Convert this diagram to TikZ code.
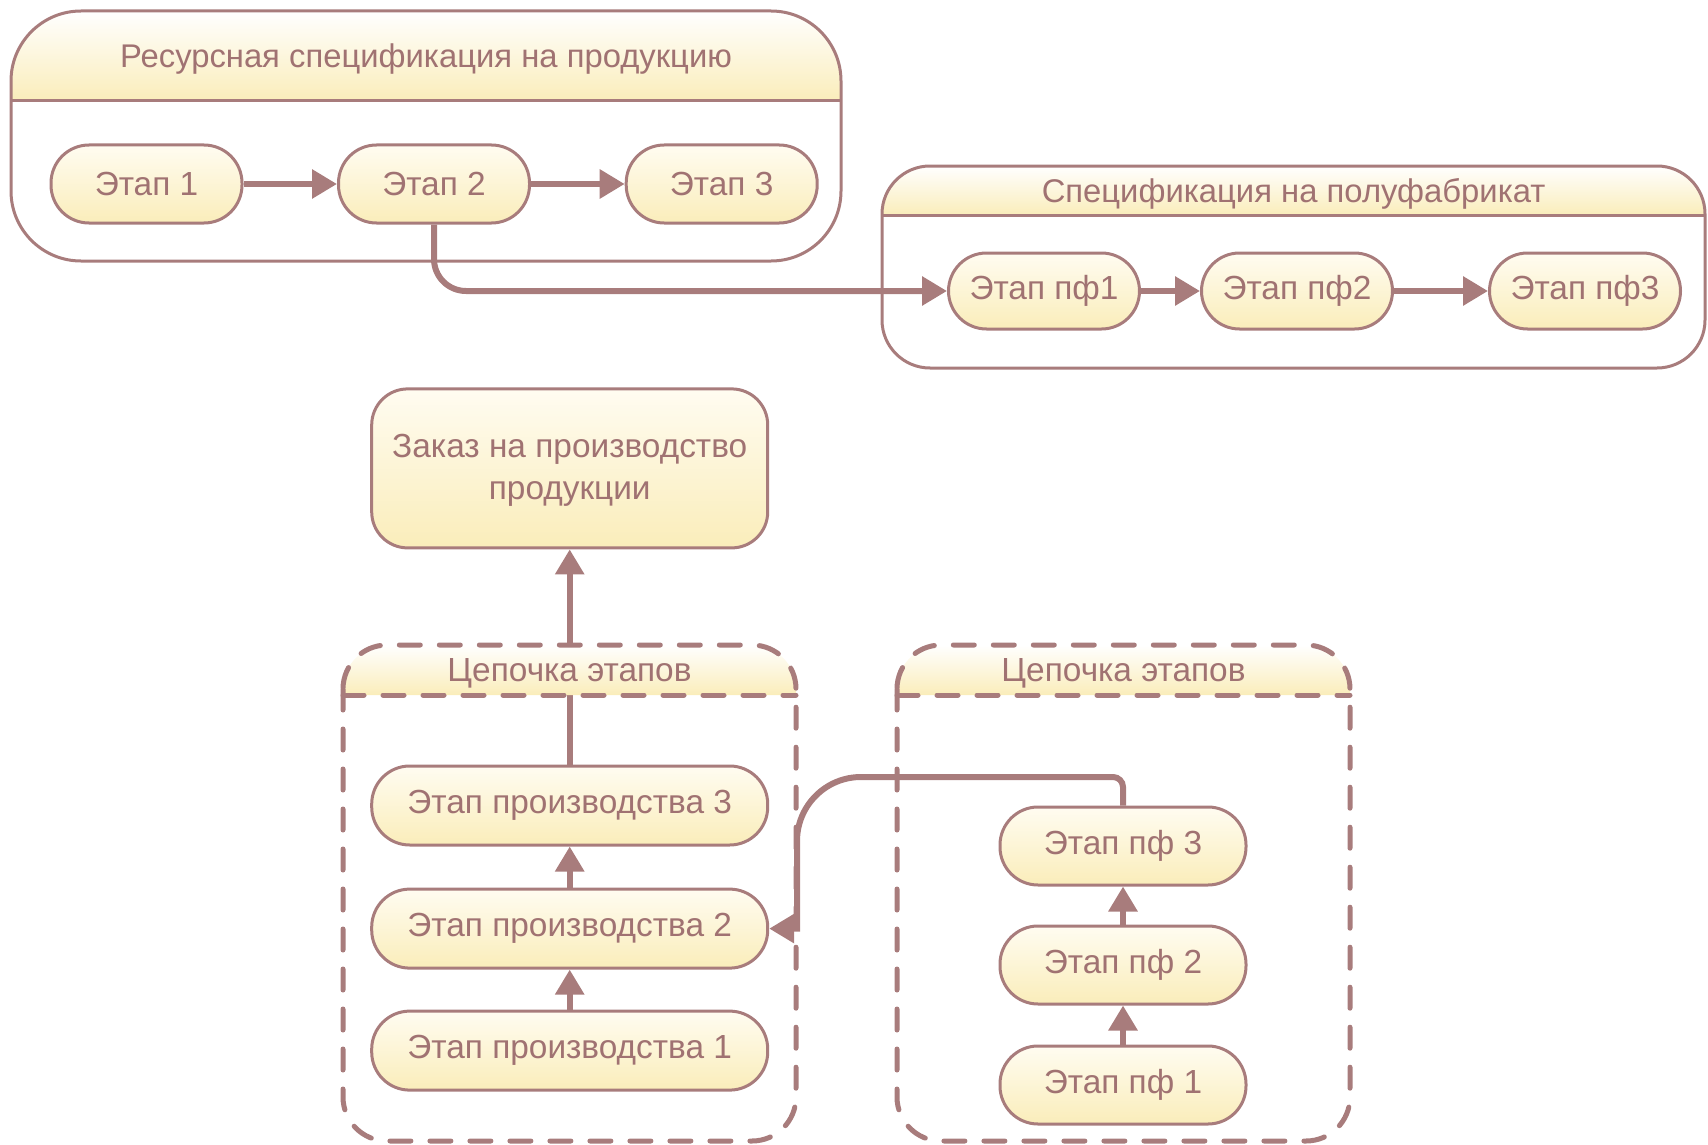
\documentclass[tikz,border=0pt]{standalone}
\usepackage{fontspec}
\setmainfont{Liberation Sans}
\usetikzlibrary{arrows.meta}

\definecolor{edge}{RGB}{168,124,124}
\definecolor{ink}{RGB}{160,114,114}
\definecolor{cream}{RGB}{255,252,241}
\definecolor{butter}{RGB}{250,237,186}

\begin{document}
\begin{tikzpicture}[x=0.5pt,y=-0.5pt,
  txt/.style={text=ink, font=\fontsize{16.7}{21.25}\selectfont},
  ttl/.style={text=ink, font=\fontsize{16.4}{21}\selectfont},
  stagebox/.style={txt, draw=edge, line width=1.5pt, rounded corners=19pt,
    top color=cream, bottom color=butter, minimum height=39pt,
    inner sep=0pt, align=center},
  conn/.style={draw=edge, line width=3pt, -{Triangle[length=12.5pt,width=14pt]}},
  headfill/.style={top color=white, bottom color=butter},
  frame/.style={inner sep=0pt, outer sep=0pt},
  solidline/.style={draw=edge, line width=1.5pt},
  dashline/.style={draw=edge, line width=2.5pt, line cap=round,
    dash pattern=on 10.5pt off 9.5pt},
]
\useasboundingbox (0,0) rectangle (1708,1145);

% --- stages of the product specification
\node[stagebox, minimum width=95.5pt] (e1) at (146.5,184) {Этап 1};
\node[stagebox, minimum width=95.5pt] (e2) at (434,184) {Этап 2};
\node[stagebox, minimum width=95.5pt] (e3) at (721.7,184) {Этап 3};

% --- stages of the semi-finished product specification
\node[stagebox, minimum width=95.5pt, minimum height=38pt] (f1) at (1044,291) {Этап пф1};
\node[stagebox, minimum width=95.5pt, minimum height=38pt] (f2) at (1297,291) {Этап пф2};
\node[stagebox, minimum width=95.5pt, minimum height=38pt] (f3) at (1585,291) {Этап пф3};

% --- production order
\node[stagebox, rounded corners=18pt, minimum width=198pt, minimum height=79.5pt]
  (zakaz) at (569.7,468.4) {};
\node[txt, align=center] (zakazt) at ([yshift=-1pt]zakaz.center) {Заказ на производство\\продукции};

% --- production chain
\node[stagebox, minimum width=198pt, minimum height=39.5pt] (p3) at (569.7,805.5) {Этап производства 3};
\node[stagebox, minimum width=198pt, minimum height=39.5pt] (p2) at (569.7,928.6) {Этап производства 2};
\node[stagebox, minimum width=198pt, minimum height=39.5pt] (p1) at (569.7,1050.6) {Этап производства 1};

% --- semi-finished chain
\node[stagebox, minimum width=123pt] (q3) at (1123,846) {Этап пф 3};
\node[stagebox, minimum width=123pt] (q2) at (1123,965) {Этап пф 2};
\node[stagebox, minimum width=123pt] (q1) at (1123,1085) {Этап пф 1};

% --- connectors
\draw[conn] (e1) -- (e2);
\draw[conn] (e2) -- (e3);
\draw[conn, rounded corners=16pt] (e2.south) |- (f1.west);
\draw[conn] (f1) -- (f2);
\draw[conn] (f2) -- (f3);

\draw[conn] (p1) -- (p2);
\draw[conn] (p2) -- (p3);
\draw[conn] (p3.north) -- (zakaz.south);

\draw[conn] (q1) -- (q2);
\draw[conn] (q2) -- (q3);

\coordinate (k2) at (797,777);
\coordinate (k1) at (q3.north |- k2);
\coordinate (k3) at (k2 |- p2.east);
\draw[conn] (q3.north) [rounded corners=5pt] -- (k1)
  [rounded corners=32pt] -- (k2) [sharp corners] -- (k3) -- (p2.east);

% --- containers: frame node, shaded header band, outline, separator, title
\node[frame, minimum width=415pt, minimum height=125pt] (gA) at (426,136) {};
\shade[headfill] ([yshift=-45pt]gA.north west) [rounded corners=35pt] -- (gA.north west)
  -- (gA.north east) [sharp corners] -- ([yshift=-45pt]gA.north east) -- cycle;
\draw[solidline, rounded corners=35pt] (gA.north west) rectangle (gA.south east);
\draw[solidline] ([yshift=-45pt]gA.north west) -- ([yshift=-45pt]gA.north east);
\node[ttl] (tA) at ([yshift=-24pt]gA.north) {Ресурсная спецификация на продукцию};

\node[frame, minimum width=411.5pt, minimum height=101pt] (gB) at (1293.5,267) {};
\shade[headfill] ([yshift=-24.5pt]gB.north west) [rounded corners=24pt] -- (gB.north west)
  -- (gB.north east) [sharp corners] -- ([yshift=-24.5pt]gB.north east) -- cycle;
\draw[solidline, rounded corners=24pt] (gB.north west) rectangle (gB.south east);
\draw[solidline] ([yshift=-24.5pt]gB.north west) -- ([yshift=-24.5pt]gB.north east);
\node[ttl] (tB) at ([yshift=-14pt]gB.north) {Спецификация на полуфабрикат};

\node[frame, minimum width=226.5pt, minimum height=248pt] (gC) at (569.5,893) {};
\shade[headfill] ([yshift=-25pt]gC.north west) [rounded corners=22pt] -- (gC.north west)
  -- (gC.north east) [sharp corners] -- ([yshift=-25pt]gC.north east) -- cycle;
\draw[dashline, rounded corners=22pt] (gC.north west) rectangle (gC.south east);
\draw[dashline] ([yshift=-25pt]gC.north west) -- ([yshift=-25pt]gC.north east);
\node[txt] (tC) at ([yshift=-14pt]gC.north) {Цепочка этапов};

\node[frame, minimum width=226.5pt, minimum height=248pt] (gD) at (1123.5,893) {};
\shade[headfill] ([yshift=-25pt]gD.north west) [rounded corners=22pt] -- (gD.north west)
  -- (gD.north east) [sharp corners] -- ([yshift=-25pt]gD.north east) -- cycle;
\draw[dashline, rounded corners=22pt] (gD.north west) rectangle (gD.south east);
\draw[dashline] ([yshift=-25pt]gD.north west) -- ([yshift=-25pt]gD.north east);
\node[txt] (tD) at ([yshift=-14pt]gD.north) {Цепочка этапов};

\end{tikzpicture}
\end{document}
